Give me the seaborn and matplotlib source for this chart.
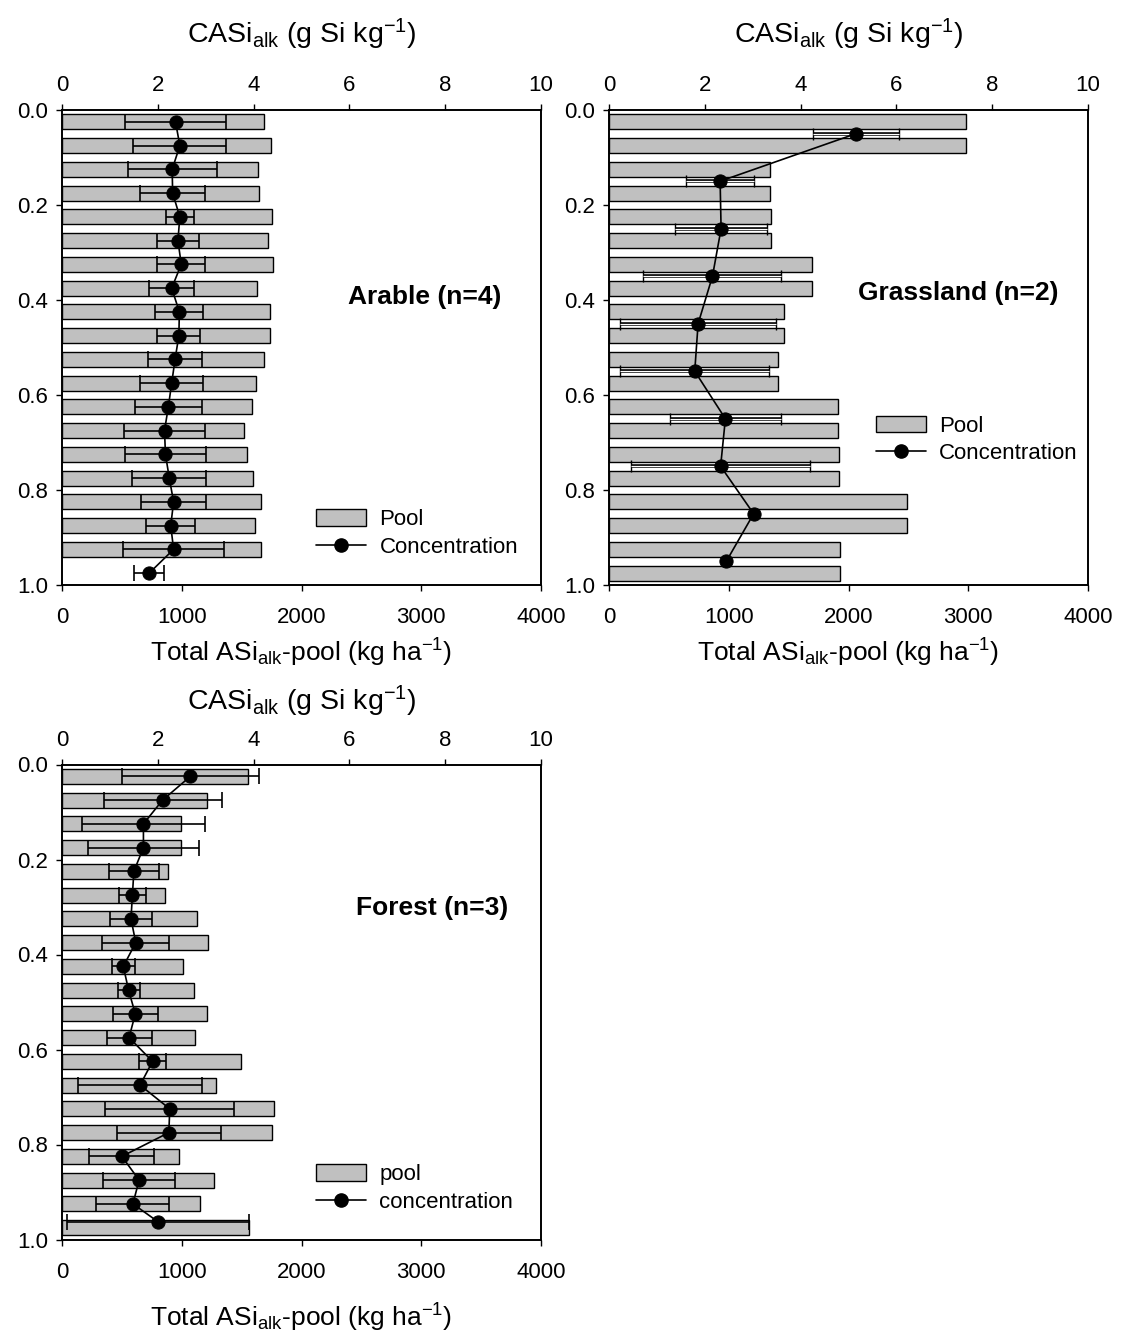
import numpy as np
import pandas as pd
import matplotlib
matplotlib.use("Agg")
import matplotlib.pyplot as plt
from matplotlib.patches import Patch
from matplotlib.lines import Line2D
from matplotlib.ticker import FormatStrFormatter
import seaborn as sns

sns.set_style("ticks")
plt.rcParams['font.family'] = ['Liberation Sans', 'DejaVu Sans']
plt.rcParams['mathtext.fontset'] = 'custom'
plt.rcParams['mathtext.rm'] = 'Liberation Sans'
plt.rcParams['mathtext.it'] = 'Liberation Sans'
plt.rcParams['mathtext.default'] = 'regular'
for k in ['text.color', 'axes.labelcolor', 'xtick.color', 'ytick.color', 'axes.edgecolor']:
    plt.rcParams[k] = 'black'

# ---------------- data ----------------
bar_depth = [0.025, 0.075, 0.125, 0.175, 0.225, 0.275, 0.325, 0.375, 0.425, 0.475,
             0.525, 0.575, 0.625, 0.675, 0.725, 0.775, 0.825, 0.875, 0.925, 0.975]

# Arable (n=4)
arable_pool = [1688, 1745, 1635, 1644, 1751, 1718, 1763, 1629, 1736, 1736,
               1688, 1623, 1584, 1524, 1545, 1599, 1658, 1611, 1658]
arable_conc = [2.37, 2.46, 2.30, 2.31, 2.46, 2.42, 2.49, 2.29, 2.45, 2.44,
               2.36, 2.29, 2.22, 2.14, 2.16, 2.24, 2.33, 2.27, 2.33, 1.82]
arable_err = [1.05, 0.97, 0.93, 0.68, 0.29, 0.44, 0.50, 0.47, 0.50, 0.45,
              0.57, 0.66, 0.70, 0.84, 0.84, 0.77, 0.68, 0.51, 1.06, 0.31]

# Grassland (n=2)
grass_pool = [2978, 2978, 1346, 1346, 1349, 1349, 1698, 1698, 1462, 1462,
              1415, 1415, 1909, 1909, 1918, 1918, 2487, 2487, 1930, 1930]
grass_depth = [0.05, 0.15, 0.25, 0.35, 0.45, 0.55, 0.65, 0.75, 0.85, 0.95]
grass_conc = [5.15, 2.32, 2.34, 2.16, 1.86, 1.79, 2.43, 2.33, 3.02, 2.45]
grass_err = [0.90, 0.71, 0.96, 1.44, 1.62, 1.56, 1.16, 1.87, 0.0, 0.0]

# Forest (n=3)
forest_pool = [1551, 1214, 996, 996, 886, 856, 1131, 1217, 1014, 1101,
               1214, 1113, 1491, 1289, 1772, 1757, 981, 1271, 1154, 1560]
forest_depth = [0.025, 0.075, 0.125, 0.175, 0.225, 0.275, 0.325, 0.375, 0.425, 0.475,
                0.525, 0.575, 0.625, 0.675, 0.725, 0.775, 0.825, 0.875, 0.925, 0.963]
forest_conc = [2.68, 2.10, 1.70, 1.70, 1.50, 1.47, 1.44, 1.54, 1.28, 1.39,
               1.53, 1.40, 1.89, 1.63, 2.25, 2.23, 1.25, 1.61, 1.48, 2.01]
forest_err = [1.43, 1.23, 1.28, 1.16, 0.52, 0.28, 0.44, 0.70, 0.24, 0.23,
              0.47, 0.47, 0.29, 1.29, 1.35, 1.08, 0.68, 0.75, 0.76, 1.90]

panels = [
    dict(title="Arable (n=4)", pool=arable_pool, pdepth=bar_depth[:len(arable_pool)],
         conc=arable_conc, cdepth=bar_depth, err=arable_err,
         legend=("Pool", "Concentration"), capsize=5.5, double=False),
    dict(title="Grassland (n=2)", pool=grass_pool, pdepth=bar_depth,
         conc=grass_conc, cdepth=grass_depth, err=grass_err,
         legend=("Pool", "Concentration"), capsize=4.0, double=True),
    dict(title="Forest (n=3)", pool=forest_pool, pdepth=bar_depth,
         conc=forest_conc, cdepth=forest_depth, err=forest_err,
         legend=("pool", "concentration"), capsize=5.5, double=False),
]

W, H = 1121, 1340
rects = [(62, 585), (609, 585), (62, 1239.5)]
title_pos = [(0.758, 0.606), (0.729, 0.615), (0.772, 0.698)]
legend_pos = [(0.512, 0.178), (0.538, 0.375), (0.512, 0.177)]
bottom_pad = [6, 6, 14]
top_pad = [23, 23, 14]

fig = plt.figure(figsize=(W / 100, H / 100), dpi=100)
BAR = "#c0c0c0"
FS = 16

for i, p in enumerate(panels):
    left, bottom = rects[i]
    ax = fig.add_axes([left / W, 1 - bottom / H, 479 / W, 475 / H])
    dfb = pd.DataFrame({"pool": p["pool"], "depth": p["pdepth"]})
    sns.barplot(data=dfb, x="pool", y="depth", orient="y", native_scale=True,
                width=0.63, color=BAR, saturation=1, edgecolor="black",
                linewidth=1.0, errorbar=None, ax=ax)
    ax2 = ax.twiny()
    dfc = pd.DataFrame({"conc": p["conc"], "depth": p["cdepth"], "err": p["err"]})
    e = dfc[dfc["err"] > 0]
    if p["double"]:
        ax2.errorbar(e["conc"], e["depth"], xerr=e["err"], fmt="none", ecolor="black",
                     elinewidth=2.6, capsize=p["capsize"], capthick=1.0, zorder=2.5)
        ax2.hlines(e["depth"], e["conc"] - e["err"], e["conc"] + e["err"],
                   color="white", linewidth=0.9, zorder=2.6)
    else:
        ax2.errorbar(e["conc"], e["depth"], xerr=e["err"], fmt="none", ecolor="black",
                     elinewidth=1.2, capsize=p["capsize"], capthick=1.2, zorder=2.5)
    sns.lineplot(data=dfc, x="conc", y="depth", orient="y", sort=False, color="black",
                 marker="o", markersize=9.5, markeredgecolor="black", linewidth=1.2,
                 legend=False, zorder=3, ax=ax2)

    ax.set_xlim(0, 4000)
    ax2.set_xlim(0, 10)
    ax.set_ylim(1.0, 0.0)
    ax.set_xticks([0, 1000, 2000, 3000, 4000])
    ax2.set_xticks([0, 2, 4, 6, 8, 10])
    ax.set_yticks([0, 0.2, 0.4, 0.6, 0.8, 1.0])
    ax.yaxis.set_major_formatter(FormatStrFormatter("%.1f"))
    ax.set_ylabel("")
    ax.tick_params(axis="x", bottom=True, top=False, direction="out", length=4,
                   width=1, pad=12, labelsize=FS)
    ax.tick_params(axis="y", left=True, right=False, direction="out", length=4,
                   width=1, pad=6, labelsize=FS)
    ax2.tick_params(axis="x", top=True, bottom=False, direction="out", length=4,
                    width=1, pad=6, labelsize=FS)
    ax2.set_ylabel("")
    for a in (ax, ax2):
        for s in a.spines.values():
            s.set_linewidth(1.2)
            s.set_color("black")
    ax.set_xlabel("Total ASi$_{alk}$-pool (kg ha$^{-1}$)", fontsize=19,
                  labelpad=bottom_pad[i])
    ax2.set_xlabel("CASi$_{alk}$ (g Si kg$^{-1}$)", fontsize=20.5, labelpad=top_pad[i])
    ax.text(title_pos[i][0], title_pos[i][1], p["title"], transform=ax.transAxes,
            ha="center", va="center", fontsize=19, fontweight="bold")
    handles = [Patch(facecolor=BAR, edgecolor="black", linewidth=1.0),
               Line2D([0], [0], color="black", marker="o", markersize=9.5, linewidth=1.2)]
    ax2.legend(handles, p["legend"], loc="upper left", bbox_to_anchor=legend_pos[i],
               frameon=False, fontsize=FS, handlelength=2.25, handleheight=0.75,
               labelspacing=0.3, handletextpad=0.6, borderaxespad=0)

fig.savefig("out.png", dpi=100)
